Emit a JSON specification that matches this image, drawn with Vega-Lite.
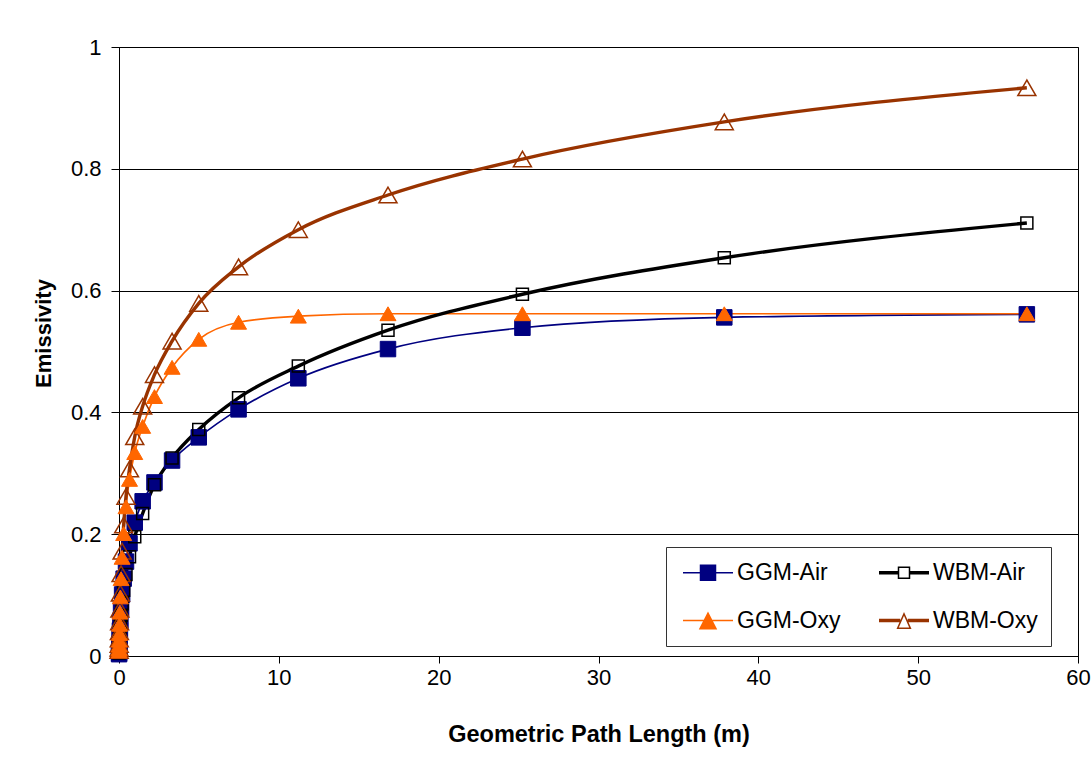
{
  "$schema": "https://vega.github.io/schema/vega-lite/v6.json",
  "width": 959,
  "height": 609,
  "autosize": {"type": "none"},
  "padding": {"left": 119, "top": 47, "right": 13, "bottom": 118},
  "background": "white",
  "config": {
    "font": "Liberation Sans",
    "view": {"stroke": "black", "strokeWidth": 1}
  },
  "data": {
    "values": [
      {"series": "GGM-Air", "L": 56.8, "e": 0.561}, {"series": "GGM-Air", "L": 37.87, "e": 0.556}, {"series": "GGM-Air", "L": 25.24, "e": 0.539}, {"series": "GGM-Air", "L": 16.83, "e": 0.504},
      {"series": "GGM-Air", "L": 11.22, "e": 0.456}, {"series": "GGM-Air", "L": 7.48, "e": 0.405}, {"series": "GGM-Air", "L": 4.99, "e": 0.359}, {"series": "GGM-Air", "L": 3.32, "e": 0.321},
      {"series": "GGM-Air", "L": 2.22, "e": 0.285}, {"series": "GGM-Air", "L": 1.48, "e": 0.254}, {"series": "GGM-Air", "L": 0.985, "e": 0.219}, {"series": "GGM-Air", "L": 0.657, "e": 0.185},
      {"series": "GGM-Air", "L": 0.438, "e": 0.155}, {"series": "GGM-Air", "L": 0.292, "e": 0.127}, {"series": "GGM-Air", "L": 0.195, "e": 0.101}, {"series": "GGM-Air", "L": 0.13, "e": 0.078},
      {"series": "GGM-Air", "L": 0.0865, "e": 0.058}, {"series": "GGM-Air", "L": 0.0577, "e": 0.042}, {"series": "GGM-Air", "L": 0.0385, "e": 0.029}, {"series": "GGM-Air", "L": 0.0256, "e": 0.019},
      {"series": "GGM-Air", "L": 0.0171, "e": 0.012}, {"series": "GGM-Air", "L": 0.0114, "e": 0.008}, {"series": "GGM-Air", "L": 0.0076, "e": 0.005}, {"series": "GGM-Air", "L": 0.0051, "e": 0.003},

      {"series": "WBM-Air", "L": 56.8, "e": 0.711}, {"series": "WBM-Air", "L": 37.87, "e": 0.654}, {"series": "WBM-Air", "L": 25.24, "e": 0.594}, {"series": "WBM-Air", "L": 16.83, "e": 0.535},
      {"series": "WBM-Air", "L": 11.22, "e": 0.476}, {"series": "WBM-Air", "L": 7.48, "e": 0.424}, {"series": "WBM-Air", "L": 4.99, "e": 0.372}, {"series": "WBM-Air", "L": 3.32, "e": 0.325},
      {"series": "WBM-Air", "L": 2.22, "e": 0.281}, {"series": "WBM-Air", "L": 1.48, "e": 0.234}, {"series": "WBM-Air", "L": 0.985, "e": 0.196}, {"series": "WBM-Air", "L": 0.657, "e": 0.163},
      {"series": "WBM-Air", "L": 0.438, "e": 0.134}, {"series": "WBM-Air", "L": 0.292, "e": 0.108}, {"series": "WBM-Air", "L": 0.195, "e": 0.086}, {"series": "WBM-Air", "L": 0.13, "e": 0.067},
      {"series": "WBM-Air", "L": 0.0865, "e": 0.051}, {"series": "WBM-Air", "L": 0.0577, "e": 0.038}, {"series": "WBM-Air", "L": 0.0385, "e": 0.028}, {"series": "WBM-Air", "L": 0.0256, "e": 0.020},
      {"series": "WBM-Air", "L": 0.0171, "e": 0.014}, {"series": "WBM-Air", "L": 0.0114, "e": 0.010}, {"series": "WBM-Air", "L": 0.0076, "e": 0.007}, {"series": "WBM-Air", "L": 0.0051, "e": 0.005},

      {"series": "GGM-Oxy", "L": 56.8, "e": 0.562}, {"series": "GGM-Oxy", "L": 37.87, "e": 0.562}, {"series": "GGM-Oxy", "L": 25.24, "e": 0.562}, {"series": "GGM-Oxy", "L": 16.83, "e": 0.562},
      {"series": "GGM-Oxy", "L": 11.22, "e": 0.558}, {"series": "GGM-Oxy", "L": 7.48, "e": 0.548}, {"series": "GGM-Oxy", "L": 4.99, "e": 0.520}, {"series": "GGM-Oxy", "L": 3.32, "e": 0.474},
      {"series": "GGM-Oxy", "L": 2.22, "e": 0.426}, {"series": "GGM-Oxy", "L": 1.48, "e": 0.377}, {"series": "GGM-Oxy", "L": 0.985, "e": 0.334}, {"series": "GGM-Oxy", "L": 0.657, "e": 0.290},
      {"series": "GGM-Oxy", "L": 0.438, "e": 0.245}, {"series": "GGM-Oxy", "L": 0.292, "e": 0.201}, {"series": "GGM-Oxy", "L": 0.195, "e": 0.162}, {"series": "GGM-Oxy", "L": 0.13, "e": 0.127},
      {"series": "GGM-Oxy", "L": 0.0865, "e": 0.097}, {"series": "GGM-Oxy", "L": 0.0577, "e": 0.072}, {"series": "GGM-Oxy", "L": 0.0385, "e": 0.052}, {"series": "GGM-Oxy", "L": 0.0256, "e": 0.037},
      {"series": "GGM-Oxy", "L": 0.0171, "e": 0.026}, {"series": "GGM-Oxy", "L": 0.0114, "e": 0.018}, {"series": "GGM-Oxy", "L": 0.0076, "e": 0.012}, {"series": "GGM-Oxy", "L": 0.0051, "e": 0.008},

      {"series": "WBM-Oxy", "L": 56.8, "e": 0.933}, {"series": "WBM-Oxy", "L": 37.87, "e": 0.877}, {"series": "WBM-Oxy", "L": 25.24, "e": 0.816}, {"series": "WBM-Oxy", "L": 16.83, "e": 0.757},
      {"series": "WBM-Oxy", "L": 11.22, "e": 0.700}, {"series": "WBM-Oxy", "L": 7.48, "e": 0.639}, {"series": "WBM-Oxy", "L": 4.99, "e": 0.579}, {"series": "WBM-Oxy", "L": 3.32, "e": 0.517},
      {"series": "WBM-Oxy", "L": 2.22, "e": 0.462}, {"series": "WBM-Oxy", "L": 1.48, "e": 0.410}, {"series": "WBM-Oxy", "L": 0.985, "e": 0.360}, {"series": "WBM-Oxy", "L": 0.657, "e": 0.307},
      {"series": "WBM-Oxy", "L": 0.438, "e": 0.262}, {"series": "WBM-Oxy", "L": 0.292, "e": 0.215}, {"series": "WBM-Oxy", "L": 0.195, "e": 0.172}, {"series": "WBM-Oxy", "L": 0.13, "e": 0.135},
      {"series": "WBM-Oxy", "L": 0.0865, "e": 0.103}, {"series": "WBM-Oxy", "L": 0.0577, "e": 0.077}, {"series": "WBM-Oxy", "L": 0.0385, "e": 0.056}, {"series": "WBM-Oxy", "L": 0.0256, "e": 0.040},
      {"series": "WBM-Oxy", "L": 0.0171, "e": 0.028}, {"series": "WBM-Oxy", "L": 0.0114, "e": 0.019}, {"series": "WBM-Oxy", "L": 0.0076, "e": 0.013}, {"series": "WBM-Oxy", "L": 0.0051, "e": 0.009}
    ]
  },
  "encoding": {
    "x": {
      "field": "L", "type": "quantitative",
      "scale": {"domain": [0, 60], "nice": false},
      "axis": {
        "values": [0, 10, 20, 30, 40, 50, 60], "grid": false, "labelFlush": false,
        "tickSize": 7, "tickColor": "black", "domainColor": "black",
        "labelFontSize": 22, "labelColor": "black", "labelPadding": 4,
        "title": "Geometric Path Length (m)", "titleFontSize": 23.5, "titleFontWeight": "bold",
        "titleColor": "black", "titlePadding": 34
      }
    },
    "y": {
      "field": "e", "type": "quantitative",
      "scale": {"domain": [0, 1], "nice": false},
      "axis": {
        "values": [0, 0.2, 0.4, 0.6, 0.8, 1], "format": ".1~f", "grid": true, "labelFlush": false,
        "gridColor": "black", "gridOpacity": 1, "gridWidth": 1,
        "tickSize": 8, "tickColor": "black", "domainColor": "black",
        "labelFontSize": 22, "labelColor": "black", "labelPadding": 10,
        "title": "Emissivity", "titleFontSize": 22, "titleFontWeight": "bold",
        "titleColor": "black", "titlePadding": 15, "titleY": 286
      }
    },
    "color": {
      "field": "series", "type": "nominal",
      "scale": {"domain": ["GGM-Air", "GGM-Oxy", "WBM-Air", "WBM-Oxy"], "range": ["#000080", "#FF6600", "#000000", "#993300"]},
      "legend": {
        "orient": "none", "legendX": 547, "legendY": 500, "columns": 2, "title": null,
        "symbolSize": 625, "symbolOffset": 4, "labelFontSize": 23, "labelColor": "black", "labelOffset": 29,
        "columnPadding": 34, "rowPadding": 23, "padding": 13,
        "strokeColor": "#333333", "fillColor": "white",
        "encode": {
          "symbols": {
            "update": {
              "shape": {"signal": "datum.value === 'GGM-Air' ? 'M-1,-0.06H3V0.06H-1ZM0.34,-0.66H1.66V0.66H0.34Z' : datum.value === 'WBM-Air' ? 'M-1,-0.14H0.5V0.14H-1ZM1.5,-0.14H3V0.14H1.5ZM0.5,-0.5H1.5V0.5H0.5ZM0.62,-0.38V0.38H1.38V-0.38Z' : datum.value === 'GGM-Oxy' ? 'M-1,-0.06H3V0.06H-1ZM1,-0.72L1.74,0.72H0.26Z' : 'M-1,-0.14H0.7V0.14H-1ZM1.3,-0.14H3V0.14H1.3ZM1,-0.68L1.6,0.68H0.4ZM1,-0.38L0.584,0.56H1.416Z'"},
              "fill": {"signal": "datum.value === 'GGM-Air' ? '#000080' : datum.value === 'WBM-Air' ? '#000000' : datum.value === 'GGM-Oxy' ? '#FF6600' : '#993300'"},
              "fillOpacity": {"value": 1},
              "stroke": {"value": "transparent"},
              "strokeWidth": {"value": 0}
            }
          }
        }
      }
    }
  },
  "layer": [
    {
      "transform": [{"filter": "datum.series === 'GGM-Air' || datum.series === 'GGM-Oxy'"}],
      "mark": {"type": "line", "interpolate": "monotone", "strokeWidth": 1.7}
    },
    {
      "transform": [{"filter": "datum.series === 'WBM-Air' || datum.series === 'WBM-Oxy'"}],
      "mark": {"type": "line", "interpolate": "monotone", "strokeWidth": 3.4}
    },
    {
      "transform": [{"filter": "datum.series === 'GGM-Air'"}],
      "mark": {"type": "point", "shape": "square", "size": 240, "filled": true, "fill": "#000080", "stroke": "#000080", "strokeWidth": 1, "opacity": 1},
      "encoding": {"color": null}
    },
    {
      "transform": [{"filter": "datum.series === 'WBM-Air'"}],
      "mark": {"type": "point", "shape": "square", "size": 144, "filled": false, "fill": null, "stroke": "#000000", "strokeWidth": 1.5, "opacity": 1},
      "encoding": {"color": null}
    },
    {
      "transform": [{"filter": "datum.series === 'WBM-Oxy'"}],
      "mark": {"type": "point", "shape": "triangle-up", "size": 324, "filled": false, "fill": null, "stroke": "#993300", "strokeWidth": 1.5, "opacity": 1},
      "encoding": {"color": null}
    },
    {
      "transform": [{"filter": "datum.series === 'GGM-Oxy'"}],
      "mark": {"type": "point", "shape": "triangle-up", "size": 256, "filled": true, "fill": "#FF6600", "stroke": "#FF6600", "strokeWidth": 1, "opacity": 1},
      "encoding": {"color": null}
    }
  ]
}
